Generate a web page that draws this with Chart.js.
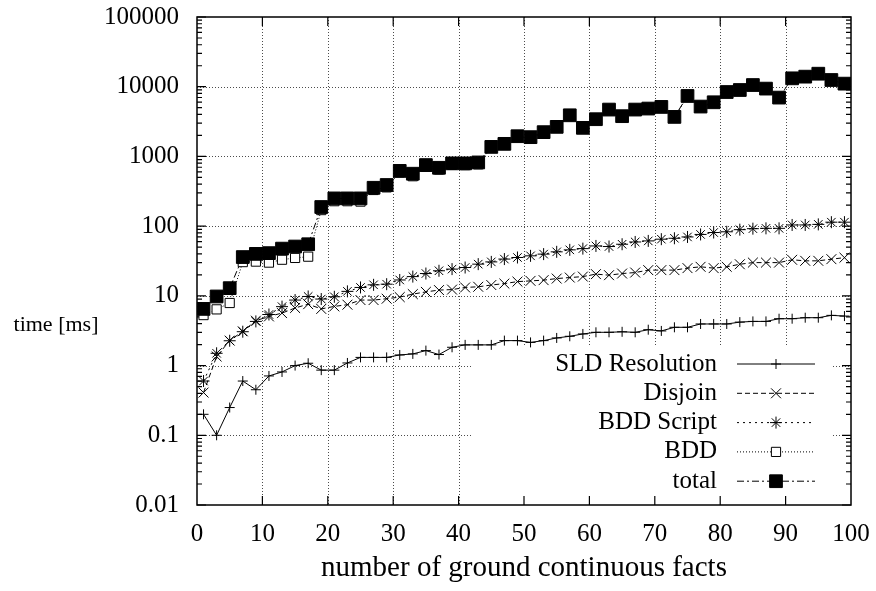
<!DOCTYPE html>
<html>
<head>
<meta charset="utf-8">
<script src="https://cdn.jsdelivr.net/npm/chart.js@4/dist/chart.umd.min.js"></script>
<style>
  body { margin: 0; background: #fff; }
</style>
</head>
<body>
<canvas id="chart" width="876" height="591"></canvas>
<script>
'use strict';

// number of ground continuous facts (x positions of the points)
const facts = [1, 3, 5, 7, 9, 11, 13, 15, 17, 19, 21, 23, 25, 27, 29, 31, 33, 35, 37, 39,
  41, 43, 45, 47, 49, 51, 53, 55, 57, 59, 61, 63, 65, 67, 69, 71, 73, 75, 77, 79,
  81, 83, 85, 87, 89, 91, 93, 95, 97, 99];

// times in ms
const sldResolution = [0.2, 0.1, 0.25, 0.6, 0.45, 0.71, 0.81, 1.0, 1.08, 0.86, 0.86, 1.09, 1.31, 1.31, 1.31,
  1.42, 1.47, 1.64, 1.44, 1.83, 1.98, 1.98, 1.98, 2.28, 2.28, 2.15, 2.28, 2.49, 2.63, 2.84,
  3.0, 3.0, 3.05, 3.0, 3.27, 3.14, 3.54, 3.54, 3.95, 3.95, 3.95, 4.2, 4.3, 4.3, 4.7, 4.7,
  4.86, 4.86, 5.25, 5.13];
const disjoin = [0.41, 1.35, 2.28, 3.1, 4.4, 5.07, 5.66, 6.7, 7.6, 6.5, 7.06, 7.47, 8.7, 8.7, 9.1,
  9.6, 10.6, 11.4, 12.1, 12.3, 13.2, 13.5, 14.3, 15.0, 16.0, 16.4, 16.8, 17.7, 18.3, 18.9,
  20.5, 19.8, 20.9, 21.6, 23.4, 23.4, 23.4, 25, 26.1, 25, 26.1, 28.4, 30, 30, 30, 32.9,
  31.8, 31.8, 33.6, 35.3];
const bddScript = [0.6, 1.5, 2.27, 3.06, 4.3, 5.4, 7.0, 8.7, 9.8, 9.0, 9.7, 11.6, 13.2, 14.4, 14.7,
  16.9, 18.9, 20.9, 22.9, 24.2, 25.5, 28.5, 30.7, 33.7, 35.5, 37.5, 39.7, 42.8, 45.7, 47.6,
  52, 51, 55, 59.3, 61.4, 65, 67, 70, 76, 81, 83, 89, 92, 93, 93, 104, 104, 106, 114, 114];
const bdd = [5.3, 6.4, 7.9, 30.5, 31, 30, 33, 35, 36.5, 170, 228, 228, 225, 330, 360,
  590, 520, 710, 650, 760, 750, 770, 1330, 1460, 1900, 1850, 2180, 2590, 3840, 2500,
  3360, 4640, 3700, 4620, 4780, 5050, 3600, 7280, 5100, 5880, 8300, 8870, 10470, 9290, 6880,
  13080, 13830, 15260, 12360, 10950];
const total = [6.5, 9.8, 12.9, 36, 40, 41, 47.6, 51, 55, 188, 250, 250, 250, 355, 389,
  620, 565, 751, 687, 795, 795, 820, 1370, 1515, 1950, 1890, 2230, 2655, 3890, 2570,
  3420, 4700, 3780, 4700, 4860, 5130, 3690, 7360, 5190, 5980, 8390, 8970, 10570, 9390, 6980,
  13190, 13940, 15370, 12480, 11070];

const seriesNames = ['SLD Resolution', 'Disjoin', 'BDD Script', 'BDD', 'total'];

const yTickValues = [0.01, 0.1, 1, 10, 100, 1000, 10000, 100000];
const yTickLabels = ['0.01', '0.1', '1', '10', '100', '1000', '10000', '100000'];
const xTickValues = [0, 10, 20, 30, 40, 50, 60, 70, 80, 90, 100];

const FONT = '"Liberation Serif", "DejaVu Serif", serif';

function pts(values) {
  return facts.map(function(x, i) {
    return { x: x, y: values[i] };
  });
}

// drop the label overhang padding, the layout padding places the plot box
function noOverhang(scale) {
  scale.paddingTop = 0;
  scale.paddingBottom = 0;
  scale.paddingLeft = 0;
  scale.paddingRight = 0;
}

let ctx = document.getElementById('chart');

// gnuplot style frame: dotted grid, inward ticks, white key box
const frame = {
  id: 'frame',
  beforeDatasetsDraw(chart) {
    const c = chart.ctx;
    const a = chart.chartArea;
    const xs = chart.scales.x;
    const ys = chart.scales.y;
    const key = { l: 472, t: 347, r: 832, b: a.bottom };

    c.save();
    c.beginPath();
    c.rect(a.left, a.top, a.right - a.left, a.bottom - a.top);
    c.rect(key.l, key.t, key.r - key.l, key.b - key.t);
    c.clip('evenodd');
    c.strokeStyle = 'rgba(0,0,0,0.7)';
    c.lineWidth = 1;
    c.setLineDash([1, 2]);
    xTickValues.slice(1, -1).forEach(function(v) {
      const px = Math.round(xs.getPixelForValue(v)) + 0.5;
      c.beginPath(); c.moveTo(px, a.top); c.lineTo(px, a.bottom); c.stroke();
    });
    yTickValues.slice(1, -1).forEach(function(v) {
      const py = Math.round(ys.getPixelForValue(v)) + 0.5;
      c.beginPath(); c.moveTo(a.left, py); c.lineTo(a.right, py); c.stroke();
    });
    c.restore();

    c.save();
    c.strokeStyle = '#000';
    c.lineWidth = 1.5;
    c.setLineDash([]);
    c.strokeRect(a.left, a.top, a.right - a.left, a.bottom - a.top);
    c.lineWidth = 1.2;
    c.beginPath();
    xTickValues.slice(1, -1).forEach(function(v) {
      const px = xs.getPixelForValue(v);
      c.moveTo(px, a.bottom); c.lineTo(px, a.bottom - 9);
      c.moveTo(px, a.top); c.lineTo(px, a.top + 9);
    });
    yTickValues.forEach(function(v) {
      const py = ys.getPixelForValue(v);
      c.moveTo(a.left, py); c.lineTo(a.left + 9, py);
      c.moveTo(a.right, py); c.lineTo(a.right - 9, py);
      if (v < 100000) {
        for (let m = 2; m <= 9; m++) {
          const pm = ys.getPixelForValue(v * m);
          c.moveTo(a.left, pm); c.lineTo(a.left + 5, pm);
          c.moveTo(a.right, pm); c.lineTo(a.right - 5, pm);
        }
      }
    });
    c.stroke();
    c.restore();
  },
  afterDatasetsDraw(chart) {
    const c = chart.ctx;
    c.save();
    c.fillStyle = '#000';
    c.font = '22px ' + FONT;
    c.textBaseline = 'middle';
    c.textAlign = 'center';
    c.fillText('time [ms]', 56, 325);

    // key
    c.font = '25px ' + FONT;
    c.textAlign = 'right';
    chart.data.datasets.forEach(function(ds, i) {
      const yy = 364 + i * 29.3;
      c.fillStyle = '#000';
      c.fillText(ds.label, 717, yy);
      c.strokeStyle = '#000';
      c.lineWidth = 1;
      c.setLineDash(ds.borderDash || []);
      c.beginPath(); c.moveTo(737, yy); c.lineTo(815, yy); c.stroke();
      c.setLineDash([]);
      c.fillStyle = ds.pointBackgroundColor;
      c.strokeStyle = '#000';
      Chart.helpers.drawPoint(c, {
        pointStyle: ds.pointStyle, radius: ds.pointRadius, rotation: 0, borderWidth: 1
      }, 776, yy);
    });
    c.restore();
  }
};

let chartData = {
  type: 'line',
  data: {
    datasets: [
      {
        label: seriesNames[0], data: pts(sldResolution), order: 5,
        borderColor: '#000', borderWidth: 1,
        pointStyle: 'cross', pointRadius: 5, pointBorderWidth: 1,
        pointBorderColor: '#000', pointBackgroundColor: '#000'
      },
      {
        label: seriesNames[1], data: pts(disjoin), order: 4,
        borderColor: '#000', borderWidth: 1, borderDash: [5, 3],
        pointStyle: 'crossRot', pointRadius: 7, pointBorderWidth: 1,
        pointBorderColor: '#000', pointBackgroundColor: '#000'
      },
      {
        label: seriesNames[2], data: pts(bddScript), order: 3,
        borderColor: '#000', borderWidth: 1, borderDash: [2, 4],
        pointStyle: 'star', pointRadius: 6, pointBorderWidth: 1,
        pointBorderColor: '#000', pointBackgroundColor: '#000'
      },
      {
        label: seriesNames[3], data: pts(bdd), order: 2,
        borderColor: '#000', borderWidth: 1, borderDash: [1, 2],
        pointStyle: 'rect', pointRadius: 6.5, pointBorderWidth: 1,
        pointBorderColor: '#000', pointBackgroundColor: '#fff'
      },
      {
        label: seriesNames[4], data: pts(total), order: 1,
        borderColor: '#000', borderWidth: 1, borderDash: [7, 3, 2, 3],
        pointStyle: 'rect', pointRadius: 9, pointBorderWidth: 1,
        pointBorderColor: '#000', pointBackgroundColor: '#000'
      }
    ]
  },
  options: {
    responsive: false,
    animation: false,
    layout: { padding: { top: 17, right: 25, left: 0, bottom: 0 } },
    plugins: {
      legend: { display: false },
      tooltip: { enabled: false }
    },
    scales: {
      x: {
        type: 'linear', min: 0, max: 100,
        grid: { display: false, drawTicks: false },
        border: { display: false },
        afterBuildTicks: function(scale) {
          scale.ticks = xTickValues.map(function(v) { return { value: v }; });
        },
        afterFit: function(scale) { scale.height = 86; noOverhang(scale); },
        ticks: { color: '#000', padding: 14, maxRotation: 0, font: { family: FONT, size: 25 } },
        title: {
          display: true, text: 'number of ground continuous facts', color: '#000',
          font: { family: FONT, size: 29 }, padding: { top: 0, bottom: 5 }
        }
      },
      y: {
        type: 'logarithmic', min: 0.01, max: 100000,
        grid: { display: false, drawTicks: false },
        border: { display: false },
        afterBuildTicks: function(scale) {
          scale.ticks = yTickValues.map(function(v) { return { value: v }; });
        },
        afterFit: function(scale) { scale.width = 197; noOverhang(scale); },
        ticks: {
          color: '#000', padding: 18, font: { family: FONT, size: 25 },
          callback: function(value, index) { return yTickLabels[index]; }
        }
      }
    }
  },
  plugins: [frame]
};

new Chart(ctx, chartData);
</script>
</body>
</html>
